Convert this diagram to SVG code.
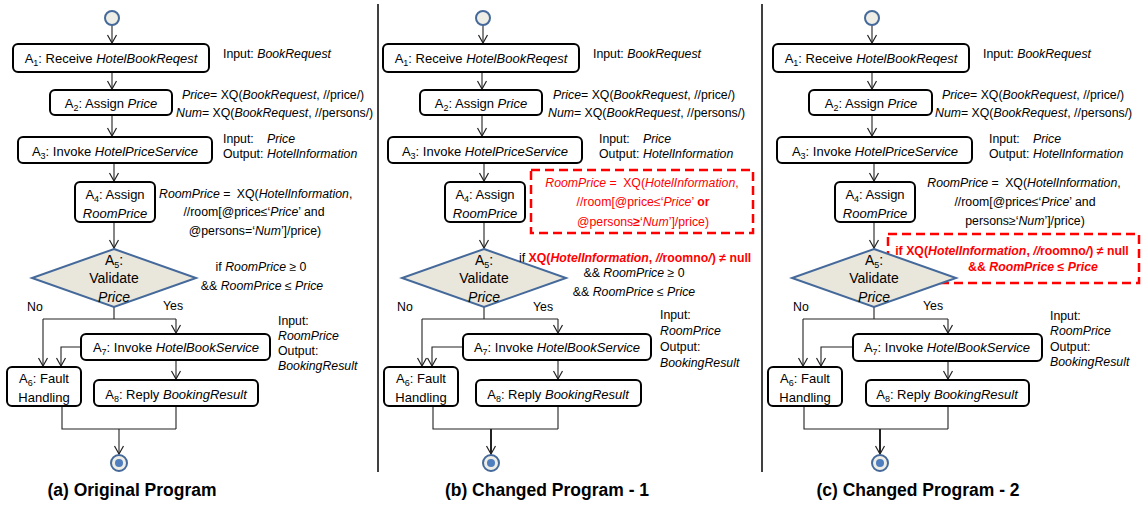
<svg xmlns="http://www.w3.org/2000/svg" width="1141" height="505" viewBox="0 0 1141 505">
<defs>
<style>
text{font-family:"Liberation Sans",Arial,sans-serif;fill:#000}
.bt{font-size:13px;text-anchor:middle}
.dt{font-size:14px;text-anchor:middle}
.an{font-size:12.3px}
.m{text-anchor:middle}
.i{font-style:italic}
.b{font-weight:bold}
.sub{font-size:9px}
.red{fill:#f00}
.rb{fill:#f00;font-weight:bold}
.box{fill:#fff;stroke:#000;stroke-width:2}
.dia{fill:#E9E7DC;stroke:#44699A;stroke-width:2}
.start{fill:#EFEEE6;stroke:#44699A;stroke-width:2}
.dot{fill:#4F7FBF;stroke:none}
.c{fill:none;stroke:#222;stroke-width:1.1}
.ck{fill:none;stroke:#222;stroke-width:2}
.sep{stroke:#000;stroke-width:1.5}
.dash{fill:none;stroke:#f00;stroke-width:2.5;stroke-dasharray:9 5}
.cap{font-size:17.5px;font-weight:bold;text-anchor:middle}
</style>
<marker id="arr" viewBox="-10 -6 12 12" markerWidth="12" markerHeight="12" refX="0" refY="0" orient="auto" markerUnits="userSpaceOnUse">
<path d="M-8,-4.5 L0,0 L-8,4.5" fill="none" stroke="#222" stroke-width="1.2"/>
</marker>
</defs>
<rect width="1141" height="505" fill="#fff"/>

<g id="separators">
<line class="sep" x1="378" y1="4" x2="378" y2="472"/>
<line class="sep" x1="762" y1="4" x2="762" y2="472"/>
</g>

<g id="b-change-box"><rect class="dash" x="531" y="170" width="222" height="63"/></g>
<g id="c-change-box"><rect class="dash" x="888" y="234" width="251" height="49"/></g>

<g id="connectors">
<path class="c" d="M112,25 V43" marker-end="url(#arr)"/>
<path class="c" d="M112,72 V89" marker-end="url(#arr)"/>
<path class="c" d="M112,115 V136" marker-end="url(#arr)"/>
<path class="c" d="M114,163 V181" marker-end="url(#arr)"/>
<path class="c" d="M114,222 V248" marker-end="url(#arr)"/>
<path class="c" d="M114,307 V319 M43,319 H176"/>
<path class="c" d="M43,319 V366" marker-end="url(#arr)"/>
<path class="c" d="M176,319 V333" marker-end="url(#arr)"/>
<path class="c" d="M81,347 H61 V366" marker-end="url(#arr)"/>
<path class="c" d="M176,360 V379" marker-end="url(#arr)"/>
<path class="c" d="M62,406 V429 H176 M176,406 V429"/>
<path class="c" d="M119,429 V454" marker-end="url(#arr)"/>
<path class="c" d="M483,25 V43" marker-end="url(#arr)"/>
<path class="c" d="M482,72 V89" marker-end="url(#arr)"/>
<path class="c" d="M482,115 V136" marker-end="url(#arr)"/>
<path class="c" d="M484,163 V181" marker-end="url(#arr)"/>
<path class="c" d="M484,222 V248" marker-end="url(#arr)"/>
<path class="c" d="M484,307 V319 M422,319 H558"/>
<path class="c" d="M422,319 V366" marker-end="url(#arr)"/>
<path class="c" d="M558,319 V333" marker-end="url(#arr)"/>
<path class="c" d="M463,347 H432 V366" marker-end="url(#arr)"/>
<path class="c" d="M558,360 V379" marker-end="url(#arr)"/>
<path class="c" d="M433,406 V429 H558 M558,406 V429"/>
<path class="ck" d="M491,429 V454" marker-end="url(#arr)"/>
<path class="c" d="M872,25 V43" marker-end="url(#arr)"/>
<path class="c" d="M872,72 V89" marker-end="url(#arr)"/>
<path class="c" d="M872,115 V136" marker-end="url(#arr)"/>
<path class="c" d="M874,163 V181" marker-end="url(#arr)"/>
<path class="c" d="M874,222 V248" marker-end="url(#arr)"/>
<path class="c" d="M874,307 V319 M803,319 H948"/>
<path class="c" d="M803,319 V366" marker-end="url(#arr)"/>
<path class="c" d="M948,319 V333" marker-end="url(#arr)"/>
<path class="c" d="M853,347 H821 V366" marker-end="url(#arr)"/>
<path class="c" d="M948,360 V379" marker-end="url(#arr)"/>
<path class="c" d="M804,406 V429 H948 M948,406 V429"/>
<path class="ck" d="M880,429 V454" marker-end="url(#arr)"/>
</g>

<!-- Panel a -->
<g id="a-start"><circle class="start" cx="112" cy="18" r="7"/></g>
<g id="a-A1"><rect class="box" x="13" y="44" width="196" height="28" rx="5"/>
<text class="bt" x="111" y="63">A<tspan class="sub" dy="3">1</tspan><tspan dy="-3">: Receive </tspan><tspan class="i">HotelBookReqest</tspan></text></g>
<g id="a-A2"><rect class="box" x="50" y="90" width="122" height="25" rx="5"/>
<text class="bt" x="111" y="108">A<tspan class="sub" dy="3">2</tspan><tspan dy="-3">: Assign </tspan><tspan class="i">Price</tspan></text></g>
<g id="a-A3"><rect class="box" x="18" y="137" width="194" height="26" rx="5"/>
<text class="bt" x="115" y="156">A<tspan class="sub" dy="3">3</tspan><tspan dy="-3">: Invoke </tspan><tspan class="i">HotelPriceService</tspan></text></g>
<g id="a-A4"><rect class="box" x="75" y="182" width="80" height="40" rx="5"/>
<text class="bt" x="115" y="199">A<tspan class="sub" dy="3">4</tspan><tspan dy="-3">: Assign</tspan></text>
<text class="bt i" x="115" y="218">RoomPrice</text></g>
<g id="a-A5"><polygon class="dia" points="114,249 196,278 114,307 32,278"/>
<text class="dt" x="114" y="265">A<tspan class="sub" dy="3">5</tspan><tspan dy="-3">:</tspan></text>
<text class="dt" x="114" y="283">Validate</text>
<text class="dt i" x="114" y="302">Price</text></g>
<g id="a-A7"><rect class="box" x="81" y="334" width="189" height="26" rx="5"/>
<text class="bt" x="176" y="352">A<tspan class="sub" dy="3">7</tspan><tspan dy="-3">: Invoke </tspan><tspan class="i">HotelBookService</tspan></text></g>
<g id="a-A6"><rect class="box" x="7" y="367" width="74" height="39" rx="5"/>
<text class="bt" x="44" y="383">A<tspan class="sub" dy="3">6</tspan><tspan dy="-3">: Fault</tspan></text>
<text class="bt" x="44" y="402">Handling</text></g>
<g id="a-A8"><rect class="box" x="94" y="380" width="164" height="26" rx="5"/>
<text class="bt" x="176" y="399">A<tspan class="sub" dy="3">8</tspan><tspan dy="-3">: Reply </tspan><tspan class="i">BookingResult</tspan></text></g>
<g id="a-end"><circle class="start" cx="119" cy="463" r="8"/><circle class="dot" cx="119" cy="463" r="4"/></g>
<g id="a-notes">
<text class="an" x="223" y="58">Input: <tspan class="i">BookRequest</tspan></text>
<text class="an" x="182" y="99"><tspan class="i">Price</tspan>= XQ(<tspan class="i">BookRequest</tspan>, //price/)</text>
<text class="an" x="176" y="117"><tspan class="i">Num</tspan>= XQ(<tspan class="i">BookRequest</tspan>, //persons/)</text>
<text class="an" x="223" y="143">Input:</text><text class="an i" x="267" y="143">Price</text>
<text class="an" x="223" y="158">Output:</text><text class="an i" x="267" y="158">HotelInformation</text>
<text class="an" x="159" y="198"><tspan class="i">RoomPrice</tspan> = <tspan dx="3">XQ(</tspan><tspan class="i">HotelInformation</tspan>,</text>
<text class="an m" x="254" y="216">//room[@price≤‘<tspan class="i">Price</tspan>’ and</text>
<text class="an m" x="255" y="235">@persons=‘<tspan class="i">Num</tspan>’]/price)</text>
<text class="an m" x="261" y="271">if <tspan class="i">RoomPrice</tspan> ≥ 0</text>
<text class="an m" x="262" y="290">&amp;&amp; <tspan class="i">RoomPrice</tspan> ≤ <tspan class="i">Price</tspan></text>
<text class="an" x="27" y="311">No</text>
<text class="an" x="163" y="310">Yes</text>
<text class="an" x="278" y="325">Input:</text>
<text class="an i" x="278" y="340">RoomPrice</text>
<text class="an" x="278" y="355">Output:</text>
<text class="an i" x="278" y="370">BookingResult</text>
</g>
<text class="cap" x="132" y="496">(a) Original Program</text>

<!-- Panel b -->
<g id="b-start"><circle class="start" cx="483" cy="18" r="7"/></g>
<g id="b-A1"><rect class="box" x="383" y="44" width="196" height="28" rx="5"/>
<text class="bt" x="481" y="63">A<tspan class="sub" dy="3">1</tspan><tspan dy="-3">: Receive </tspan><tspan class="i">HotelBookReqest</tspan></text></g>
<g id="b-A2"><rect class="box" x="420" y="90" width="122" height="25" rx="5"/>
<text class="bt" x="481" y="108">A<tspan class="sub" dy="3">2</tspan><tspan dy="-3">: Assign </tspan><tspan class="i">Price</tspan></text></g>
<g id="b-A3"><rect class="box" x="388" y="137" width="194" height="26" rx="5"/>
<text class="bt" x="485" y="156">A<tspan class="sub" dy="3">3</tspan><tspan dy="-3">: Invoke </tspan><tspan class="i">HotelPriceService</tspan></text></g>
<g id="b-A4"><rect class="box" x="445" y="182" width="80" height="40" rx="5"/>
<text class="bt" x="485" y="199">A<tspan class="sub" dy="3">4</tspan><tspan dy="-3">: Assign</tspan></text>
<text class="bt i" x="485" y="218">RoomPrice</text></g>
<g id="b-A5"><polygon class="dia" points="484,249 566,278 484,307 402,278"/>
<text class="dt" x="484" y="265">A<tspan class="sub" dy="3">5</tspan><tspan dy="-3">:</tspan></text>
<text class="dt" x="484" y="283">Validate</text>
<text class="dt i" x="484" y="302">Price</text></g>
<g id="b-A7"><rect class="box" x="463" y="334" width="188" height="26" rx="5"/>
<text class="bt" x="557" y="352">A<tspan class="sub" dy="3">7</tspan><tspan dy="-3">: Invoke </tspan><tspan class="i">HotelBookService</tspan></text></g>
<g id="b-A6"><rect class="box" x="384" y="367" width="74" height="39" rx="5"/>
<text class="bt" x="421" y="383">A<tspan class="sub" dy="3">6</tspan><tspan dy="-3">: Fault</tspan></text>
<text class="bt" x="421" y="402">Handling</text></g>
<g id="b-A8"><rect class="box" x="476" y="380" width="165" height="26" rx="5"/>
<text class="bt" x="558" y="399">A<tspan class="sub" dy="3">8</tspan><tspan dy="-3">: Reply </tspan><tspan class="i">BookingResult</tspan></text></g>
<g id="b-end"><circle class="start" cx="491" cy="463" r="8"/><circle class="dot" cx="491" cy="463" r="4"/></g>
<g id="b-notes">
<text class="an" x="593" y="58">Input: <tspan class="i">BookRequest</tspan></text>
<text class="an" x="553" y="99"><tspan class="i">Price</tspan>= XQ(<tspan class="i">BookRequest</tspan>, //price/)</text>
<text class="an" x="548" y="117"><tspan class="i">Num</tspan>= XQ(<tspan class="i">BookRequest</tspan>, //persons/)</text>
<text class="an" x="599" y="143">Input:</text><text class="an i" x="643" y="143">Price</text>
<text class="an" x="599" y="158">Output:</text><text class="an i" x="643" y="158">HotelInformation</text>
<text class="an m red" x="642" y="187"><tspan class="i">RoomPrice</tspan> = <tspan dx="3">XQ(</tspan><tspan class="i">HotelInformation</tspan>,</text>
<text class="an m red" x="643" y="206">//room[@price≤‘<tspan class="i">Price</tspan>’ <tspan class="b">or</tspan></text>
<text class="an m red" x="643" y="226">@persons<tspan class="b">≥</tspan>‘<tspan class="i">Num</tspan>’]/price)</text>
<text class="an" x="519" y="262">if <tspan class="rb">XQ(<tspan class="i">HotelInformation</tspan>, <tspan class="i">//</tspan>roomno<tspan class="i">/</tspan>) ≠ null</tspan></text>
<text class="an m" x="634" y="277">&amp;&amp; <tspan class="i">RoomPrice</tspan> ≥ 0</text>
<text class="an m" x="634" y="296">&amp;&amp; <tspan class="i">RoomPrice</tspan> ≤ <tspan class="i">Price</tspan></text>
<text class="an" x="397" y="311">No</text>
<text class="an" x="533" y="311">Yes</text>
<text class="an" x="660" y="319">Input:</text>
<text class="an i" x="660" y="335">RoomPrice</text>
<text class="an" x="660" y="351">Output:</text>
<text class="an i" x="660" y="367">BookingResult</text>
</g>
<text class="cap" x="547" y="496">(b) Changed Program - 1</text>

<!-- Panel c -->
<g id="c-start"><circle class="start" cx="872" cy="18" r="7"/></g>
<g id="c-A1"><rect class="box" x="773" y="44" width="196" height="28" rx="5"/>
<text class="bt" x="871" y="63">A<tspan class="sub" dy="3">1</tspan><tspan dy="-3">: Receive </tspan><tspan class="i">HotelBookReqest</tspan></text></g>
<g id="c-A2"><rect class="box" x="809" y="90" width="123" height="25" rx="5"/>
<text class="bt" x="871" y="108">A<tspan class="sub" dy="3">2</tspan><tspan dy="-3">: Assign </tspan><tspan class="i">Price</tspan></text></g>
<g id="c-A3"><rect class="box" x="777" y="137" width="195" height="26" rx="5"/>
<text class="bt" x="875" y="156">A<tspan class="sub" dy="3">3</tspan><tspan dy="-3">: Invoke </tspan><tspan class="i">HotelPriceService</tspan></text></g>
<g id="c-A4"><rect class="box" x="835" y="182" width="80" height="40" rx="5"/>
<text class="bt" x="875" y="199">A<tspan class="sub" dy="3">4</tspan><tspan dy="-3">: Assign</tspan></text>
<text class="bt i" x="875" y="218">RoomPrice</text></g>
<g id="c-A5"><polygon class="dia" points="874,249 956,278 874,307 792,278"/>
<text class="dt" x="874" y="265">A<tspan class="sub" dy="3">5</tspan><tspan dy="-3">:</tspan></text>
<text class="dt" x="874" y="283">Validate</text>
<text class="dt i" x="874" y="302">Price</text></g>
<g id="c-A7"><rect class="box" x="853" y="334" width="189" height="27" rx="5"/>
<text class="bt" x="947" y="352">A<tspan class="sub" dy="3">7</tspan><tspan dy="-3">: Invoke </tspan><tspan class="i">HotelBookService</tspan></text></g>
<g id="c-A6"><rect class="box" x="768" y="367" width="74" height="39" rx="5"/>
<text class="bt" x="805" y="383">A<tspan class="sub" dy="3">6</tspan><tspan dy="-3">: Fault</tspan></text>
<text class="bt" x="805" y="402">Handling</text></g>
<g id="c-A8"><rect class="box" x="866" y="380" width="163" height="26" rx="5"/>
<text class="bt" x="947" y="399">A<tspan class="sub" dy="3">8</tspan><tspan dy="-3">: Reply </tspan><tspan class="i">BookingResult</tspan></text></g>
<g id="c-end"><circle class="start" cx="880" cy="463" r="8"/><circle class="dot" cx="880" cy="463" r="4"/></g>
<g id="c-notes">
<text class="an" x="983" y="58">Input: <tspan class="i">BookRequest</tspan></text>
<text class="an" x="942" y="99"><tspan class="i">Price</tspan>= XQ(<tspan class="i">BookRequest</tspan>, //price/)</text>
<text class="an" x="935" y="117"><tspan class="i">Num</tspan>= XQ(<tspan class="i">BookRequest</tspan>, //persons/)</text>
<text class="an" x="989" y="143">Input:</text><text class="an i" x="1033" y="143">Price</text>
<text class="an" x="989" y="158">Output:</text><text class="an i" x="1033" y="158">HotelInformation</text>
<text class="an m" x="1024" y="187"><tspan class="i">RoomPrice</tspan> = <tspan dx="3">XQ(</tspan><tspan class="i">HotelInformation</tspan>,</text>
<text class="an m" x="1025" y="206">//room[@price≤‘<tspan class="i">Price</tspan>’ and</text>
<text class="an m" x="1025" y="225">persons≥‘<tspan class="i">Num</tspan>’]/price)</text>
<text class="an m rb" x="1012" y="255">if XQ(<tspan class="i">HotelInformation</tspan>, <tspan class="i">//</tspan>roomno<tspan class="i">/</tspan>) ≠ null</text>
<text class="an m rb" x="1033" y="271">&amp;&amp; <tspan class="i">RoomPrice</tspan> ≤ <tspan class="i">Price</tspan></text>
<text class="an" x="793" y="311">No</text>
<text class="an" x="923" y="310">Yes</text>
<text class="an" x="1050" y="320">Input:</text>
<text class="an i" x="1050" y="335">RoomPrice</text>
<text class="an" x="1050" y="351">Output:</text>
<text class="an i" x="1050" y="366">BookingResult</text>
</g>
<text class="cap" x="918" y="496">(c) Changed Program - 2</text>
</svg>
